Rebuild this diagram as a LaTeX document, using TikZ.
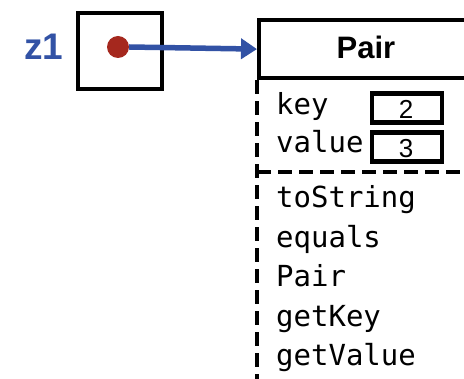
\documentclass[tikz,border=0pt]{standalone}
\usepackage{fontspec}
\setmainfont{Liberation Sans}
\newfontfamily\codefont{DejaVu Sans Mono}
\usetikzlibrary{arrows.meta}
\definecolor{zblue}{RGB}{50,82,165}
\definecolor{dotred}{RGB}{165,40,30}
\begin{document}
\begin{tikzpicture}[x=1pt,y=-1pt,
  box/.style={draw=black,line width=4.2pt,inner sep=0pt},
  dashline/.style={line width=4pt,dash pattern=on 14pt off 7pt},
  code/.style={font=\codefont\fontsize{29}{29}\selectfont,anchor=base west,inner sep=0pt},
  num/.style={font=\fontsize{26}{26}\selectfont,anchor=base,inner sep=0pt},
  ref/.style={line width=5.5pt,zblue,-{Triangle[length=16pt,width=20pt]}}]
\useasboundingbox (0,0) rectangle (464,379);
\clip (0,0) rectangle (464,379);
% variable z1
\node[font=\bfseries\fontsize{37}{37}\selectfont,text=zblue,anchor=base,inner sep=0pt] (zlabel) at (44,60) {z1};
\node[box,anchor=north west,minimum width=84pt,minimum height=76pt] (obj) at (76,11) {};
\node[circle,fill=dotred,minimum size=22pt,inner sep=0pt] (dot) at (118,47) {};
% Pair object
\node[box,anchor=north west,minimum width=260pt,minimum height=58pt] (title) at (257,18) {};
\node[font=\bfseries\fontsize{31}{31}\selectfont,anchor=base,inner sep=0pt] (titletext) at (366,59) {Pair};
\draw[ref] (dot.east) -- (title.west);
\draw[dashline] (title.south west) -- ++(0,320);
\coordinate (sepL) at (257,172);
\coordinate (sepR) at (480,172);
\draw[dashline] (sepL) -- (sepR);
% fields
\node[code] (fkey) at (276,115) {key};
\node[code] (fvalue) at (276,153) {value};
\node[box,minimum width=70pt,minimum height=29pt] (keybox) at (407,108) {};
\node[box,minimum width=70pt,minimum height=29pt] (valbox) at (407,147) {};
\node[num] (keynum) at (406,119) {2};
\node[num] (valnum) at (406,158) {3};
% methods
\node[code] (m1) at (276,208) {toString};
\node[code] (m2) at (276,247.4) {equals};
\node[code] (m3) at (276,286.8) {Pair};
\node[code] (m4) at (276,326.2) {getKey};
\node[code] (m5) at (276,365.6) {getValue};
\end{tikzpicture}
\end{document}
